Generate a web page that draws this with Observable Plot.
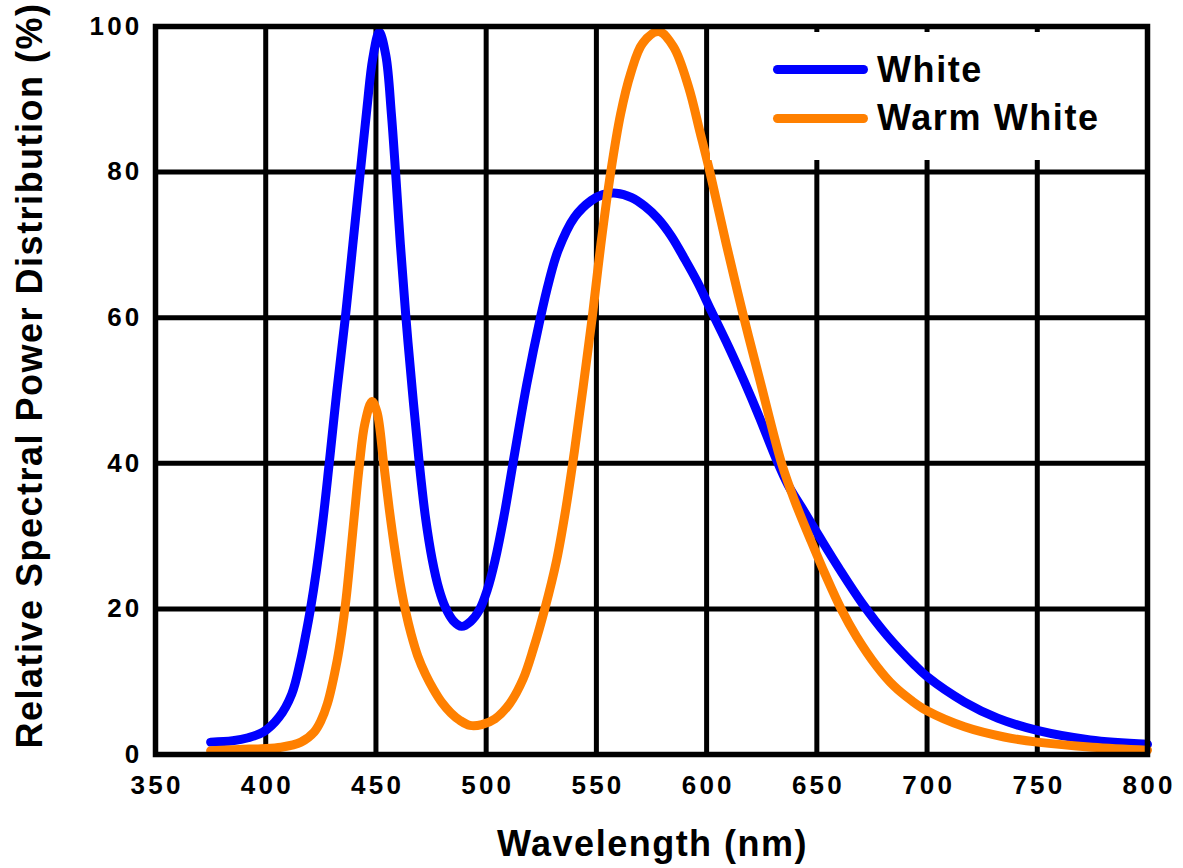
<!DOCTYPE html>
<html>
<head>
<meta charset="utf-8">
<script src="https://cdn.jsdelivr.net/npm/d3@7"></script>
<script src="https://cdn.jsdelivr.net/npm/@observablehq/plot@0.6"></script>
<style>
  html, body { margin: 0; padding: 0; background: #fff; }
  #wrap { position: relative; width: 1183px; height: 868px; font-family: "Liberation Sans", Arial, sans-serif; }
  #legend { position: absolute; left: 710px; top: 32px; width: 433px; height: 128px; background: #fff; }
  .swatch { position: absolute; left: 63px; width: 95px; height: 9px; border-radius: 4.5px; }
  .lab { position: absolute; left: 167px; font-size: 36px; line-height: 36px; font-weight: bold; letter-spacing: 1.6px; color: #000; white-space: nowrap; }
  g[aria-label="x-axis tick label"] text, g[aria-label="y-axis tick label"] text { letter-spacing: 3.2px; }
  g[aria-label="text"] text { letter-spacing: 1.5px; }
</style>
</head>
<body>
<div id="wrap"></div>
<script>
// Series: White (blue)
const whiteNm  = [375, 385, 392, 399, 406, 411.8, 415.8, 418, 420.3, 423, 426, 428.8, 432.3, 436.1, 439.5, 442.9, 446, 448.5, 451.5, 454.5, 457, 458.9, 461.1, 463.6, 466.5, 469.5, 472.5, 475.5, 478.5, 481.5, 485, 488.9, 493, 497, 500.5, 504, 508, 513, 518.5, 524.6, 528.5, 532.6, 540.1, 547.7, 553, 559, 566, 572, 578, 584, 590, 596, 602, 610, 617, 624, 631, 637, 644, 651, 660, 670.5, 682, 694, 700, 717, 732, 750, 774, 800];
const whiteVal = [1.7, 1.9, 2.3, 3.1, 5.1, 8.3, 12.9, 16.2, 20, 25.3, 32.3, 40, 50, 60, 70, 80, 89, 95.5, 99.2, 96, 88, 80, 70, 60, 50, 40.5, 32.5, 26.8, 22.8, 20.2, 18.4, 17.6, 18.3, 19.9, 22.6, 26.6, 32.6, 41.5, 51, 60, 65, 69.2, 73.8, 76.1, 76.9, 77.1, 76.5, 75.3, 73.6, 71.2, 68.1, 64.8, 61, 56, 51.3, 46.3, 41, 37, 33.5, 30, 25.6, 20.8, 16.3, 12.4, 10.7, 7.2, 5.0, 3.3, 2.0, 1.4];

// Series: Warm White (orange)
const warmNm  = [375, 388, 398, 407, 416, 422, 425, 428, 432.4, 434.5, 436.5, 438.5, 440.5, 442.5, 445, 448.2, 450.5, 453.5, 456, 458.5, 461, 463.5, 466, 469, 472.5, 476, 480, 484, 488, 492.6, 498, 504, 510.7, 516.8, 521.5, 526.6, 531.9, 536, 540.1, 544, 548.1, 552, 556.5, 561, 565.5, 571, 578.3, 585, 591.8, 597, 601.5, 609, 616.5, 624.5, 634, 640, 647, 654, 661, 668, 677, 685, 693, 700, 717, 735, 750, 775, 800];
const warmVal = [0.5, 0.7, 0.8, 1.0, 1.7, 3.1, 4.6, 7.0, 12.9, 16.8, 21.5, 27.5, 33.8, 39.8, 45.5, 48.5, 47, 40, 33.8, 28.3, 23.5, 19.6, 16.5, 13.5, 11, 9.0, 7.1, 5.7, 4.7, 4.0, 4.1, 4.9, 7.0, 10.4, 14.6, 20, 26.6, 33.5, 41.8, 50.5, 60, 70, 80, 88, 93.5, 97.7, 99.3, 97.2, 91.7, 85.5, 80, 70, 60.5, 51, 40, 34.8, 29.6, 24.6, 20, 16.2, 12.2, 9.4, 7.4, 6.0, 3.8, 2.4, 1.7, 1.0, 0.6];

const xTicks = [350, 400, 450, 500, 550, 600, 650, 700, 750, 800];
const yTicks = [0, 20, 40, 60, 80, 100];
const seriesNames = ["White", "Warm White"];
const seriesColors = ["#0000FF", "#FF8000"];
const xLabel = "Wavelength (nm)";
const yLabel = "Relative Spectral Power Distribution (%)";

const white = whiteNm.map((x, i) => ({x, y: whiteVal[i]}));
const warm = warmNm.map((x, i) => ({x, y: warmVal[i]}));

const tickStyle = {fontSize: 26, fontWeight: "bold", fill: "#000"};

const chart = Plot.plot({
  width: 1183,
  height: 868,
  marginLeft: 155,
  marginRight: 36,
  marginTop: 26,
  marginBottom: 114,
  style: {fontFamily: "'Liberation Sans', Arial, sans-serif", background: "#fff", color: "#000", overflow: "visible"},
  x: {domain: [350, 800]},
  y: {domain: [0, 100]},
  marks: [
    Plot.ruleX(xTicks, {stroke: "#000", strokeWidth: 5}),
    Plot.ruleY(yTicks, {stroke: "#000", strokeWidth: 5}),
    Plot.line(white, {x: "x", y: "y", stroke: seriesColors[0], strokeWidth: 9, curve: "catmull-rom", strokeLinejoin: "round"}),
    Plot.line(warm, {x: "x", y: "y", stroke: seriesColors[1], strokeWidth: 9, curve: "catmull-rom", strokeLinejoin: "round"}),
    Plot.frame({stroke: "#000", strokeWidth: 5.5}),
    Plot.axisX(xTicks, {tickSize: 0, tickPadding: 21, dx: 1.6, label: null, ...tickStyle}),
    Plot.axisY(yTicks, {tickSize: 0, tickPadding: 16, dx: 3, label: null, ...tickStyle}),
    Plot.text([xLabel], {text: d => d, frameAnchor: "bottom", textAnchor: "middle", dy: 90, dx: 1, lineAnchor: "middle", fontSize: 36, fontWeight: "bold", fill: "#000"}),
    Plot.text([yLabel], {text: d => d, frameAnchor: "left", textAnchor: "middle", rotate: -90, dx: -125, dy: -15, lineAnchor: "middle", fontSize: 36, fontWeight: "bold", fill: "#000"})
  ]
});

const wrap = document.getElementById("wrap");
wrap.appendChild(chart);

const legend = document.createElement("div");
legend.id = "legend";
seriesNames.forEach((name, i) => {
  const sw = document.createElement("div");
  sw.className = "swatch";
  sw.style.top = (32.8 + i * 49) + "px";
  sw.style.background = seriesColors[i];
  legend.appendChild(sw);
  const t = document.createElement("div");
  t.className = "lab";
  t.style.top = (19.5 + i * 48) + "px";
  t.textContent = name;
  legend.appendChild(t);
});
wrap.appendChild(legend);
</script>
</body>
</html>
